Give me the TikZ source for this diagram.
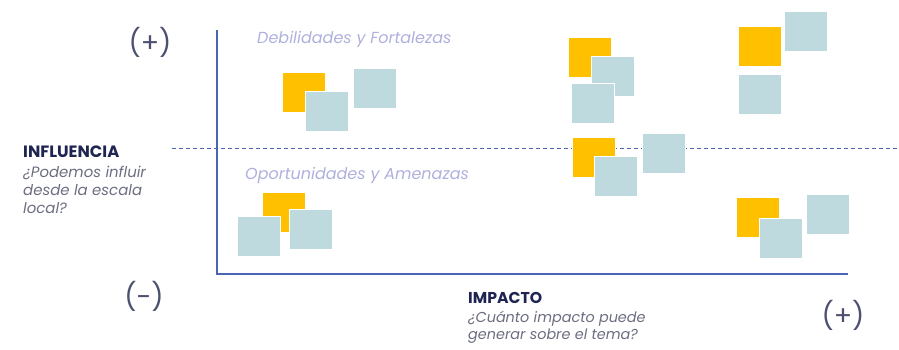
\documentclass[tikz,border=0pt]{standalone}
\usepackage{fontspec}
\setmainfont{Poppins}
\usetikzlibrary{positioning}
\definecolor{MapInk}{HTML}{1F2552}
\definecolor{MapGrey}{HTML}{6B6D80}
\definecolor{MapSign}{HTML}{4D5070}
\definecolor{MapLilac}{HTML}{AEB0DE}
\definecolor{MapAxis}{HTML}{4A64B8}
\definecolor{MapGold}{HTML}{FFC000}
\definecolor{MapTeal}{HTML}{BEDADE}
\tikzset{
  every node/.style={text=MapInk, inner sep=0pt},
  note/.style={draw=white, line width=0.6pt, anchor=north west, minimum width=43pt, minimum height=40pt},
  goldnote/.style={note, fill=MapGold},
  tealnote/.style={note, fill=MapTeal},
  axis/.style={draw=MapAxis, line width=2.2pt},
  divide/.style={draw=MapAxis, line width=0.9pt, dash pattern=on 4pt off 3pt},
  quadrant/.style={font=\itshape\fontsize{16}{16}\selectfont, text=MapLilac, anchor=base west},
  heading/.style={font=\bfseries\fontsize{16.4}{16}\selectfont, anchor=base west},
  question/.style={font=\itshape\fontsize{14.9}{18}\selectfont, text=MapGrey, align=left, anchor=north west},
  sign/.style={font=\fontsize{27}{27}\selectfont, text=MapSign},
}
\begin{document}
\begin{tikzpicture}[x=1pt,y=-1pt]
  \useasboundingbox (0,0) rectangle (899,349);
  % Axes and the middle line
  \coordinate (ytop) at (217,30);
  \coordinate (xend) at (848,274);
  \coordinate (midl) at (172,148);
  \coordinate (midr) at (899,148);
  \draw[divide] (midl) -- (midr);
  \draw[axis] (ytop) |- (xend);
  % Notes: gold first, teal on top
  \foreach \n/\x/\y in {g1/282/72, g2/568/37, g3/738/26, g4/572/137, g5/736/197, g6/262/192}
    \node[goldnote] (\n) at (\x,\y) {};
  \foreach \n/\x/\y in {t1/305/91, t2/353/68, t3/591/56, t4/571/83, t5/784/11, t6/738/74,
                        t7/594/156, t8/642/133, t9/759/218, t10/806/194, t11/237/216, t12/289/209}
    \node[tealnote] (\n) at (\x,\y) {};
  % Labels
  \node[quadrant] (top) at (257,43) {Debilidades y Fortalezas};
  \node[quadrant] (bottom) at (245,179) {Oportunidades y Amenazas};
  \node[heading] (infl) at (23,157) {INFLUENCIA};
  \node[question] (inflq) at (23,166) {¿Podemos influir\\desde la escala\\local?};
  \node[heading, font=\bfseries\fontsize{15.7}{16}\selectfont] (imp) at (468,303) {IMPACTO};
  \node[question, font=\itshape\fontsize{14.4}{17}\selectfont] (impq) at (468,311) {¿Cuánto impacto puede\\generar sobre el tema?};
  \node[sign] (ymax) at (150,42) {(+)};
  \node[sign] (ymin) at (144,296) {(-)};
  \node[sign] (xmax) at (843,315) {(+)};
\end{tikzpicture}
\end{document}
